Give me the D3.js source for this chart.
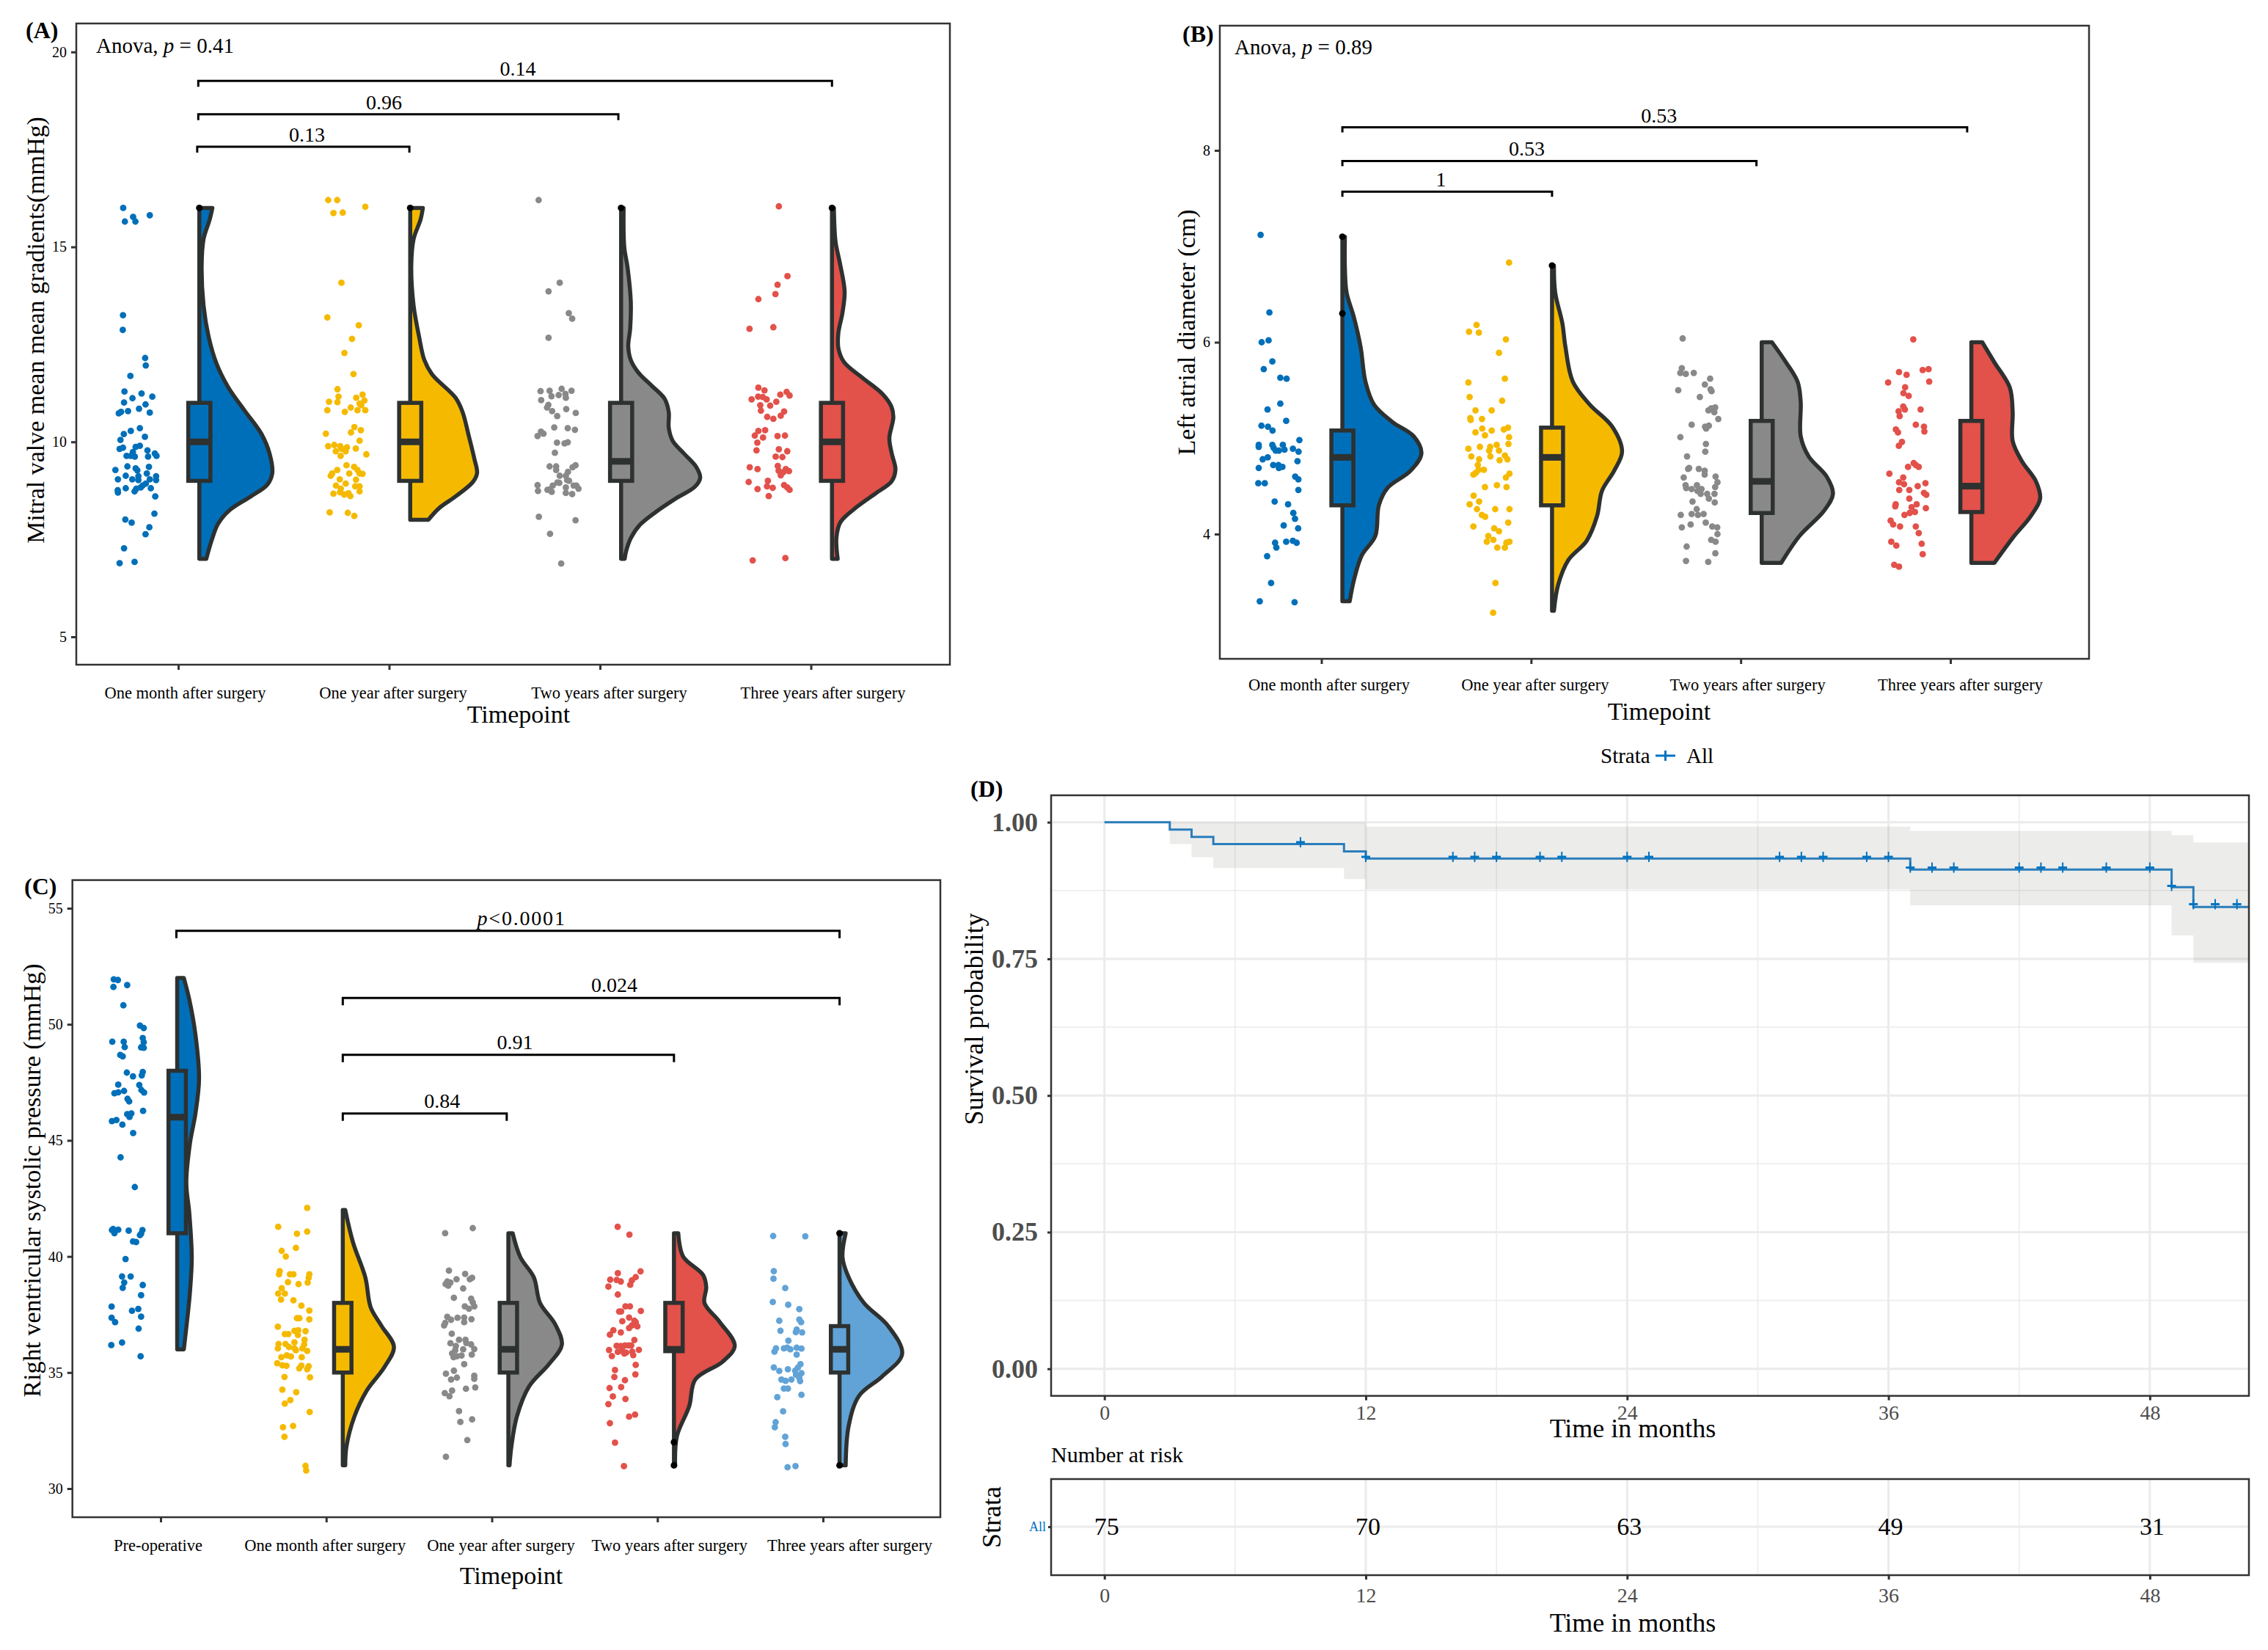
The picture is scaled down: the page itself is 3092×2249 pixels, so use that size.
<!DOCTYPE html>
<html>
<head>
<meta charset="utf-8">
<script src="https://d3js.org/d3.v7.min.js"></script>
<style>
body { margin: 0; background: #fff; }
text { font-family: "Liberation Serif", serif; }
</style>
</head>
<body>
<div id="chart"></div>
<script>
// colours shared by the raincloud groups
var groupColors = ["#006fb9", "#f5ba00", "#8a8989", "#e2514a", "#61a3d7"];
var darkLine = "#2d3130";

// ---- panel A: mitral valve gradient
var aLabels = ["One month after surgery", "One year after surgery", "Two years after surgery", "Three years after surgery"];
var aTicks = [5, 10, 15, 20];
var aBoxes = [[9, 10, 11], [9, 10, 11], [9, 9.5, 11], [9, 10, 11]];
var aOutliers = [[16], [16], [16], [16]];
var aBracketFrom = [0.09, 0.095, 0.095];
var aBracketTo = [1.096, 2.087, 3.1];
var aBracketY = [17.57, 18.4, 19.26];
var aBracketText = ["0.13", "0.96", "0.14"];
var aBracketTextX = [0.61, 0.976, 1.61];
var aViolinValues = [
  [16, 15.7, 15.2, 14.5, 13.5, 12.7, 12, 11.4, 10.8, 10.2, 9.7, 9.2, 8.9, 8.6, 8.25, 7.9, 7.5, 7],
  [16, 15.7, 15.2, 14.5, 13.5, 12.7, 12.1, 11.73, 11.13, 10.77, 10.17, 9.57, 9.2, 8.97, 8.6, 8.3, 8],
  [16, 15, 14.46, 13.6, 12.9, 12.45, 12.1, 11.77, 11.44, 11.1, 10.76, 10.36, 10.02, 9.69, 9.35, 9.08, 8.85, 8.54, 8.2, 7.87, 7.53, 7.2, 7],
  [16, 15.13, 14.6, 13.86, 13.32, 12.78, 12.38, 12.04, 11.64, 11.23, 10.9, 10.63, 10.09, 9.69, 9.29, 8.98, 8.68, 8.34, 7.94, 7.54, 7]
];
var aViolinDensity = [
  [.062, .049, .02, .011, .02, .044, .082, .137, .215, .295, .333, .346, .322, .244, .144, .089, .06, .033],
  [.06, .049, .016, .005, .016, .042, .067, .104, .215, .248, .277, .304, .317, .297, .215, .137, .086],
  [.012, .015, .031, .046, .043, .034, .046, .083, .145, .207, .226, .226, .245, .3, .357, .375, .35, .257, .164, .089, .046, .024, .017],
  [.009, .017, .037, .06, .05, .03, .031, .058, .145, .239, .282, .291, .272, .284, .301, .282, .207, .12, .04, .021, .027]
];
// dots are [jitter in category units, value]
var aDots1 = [[-.261,16],[-.214,15.77],[-.135,15.81],[-.253,15.65],[-.203,15.65],[-.262,13.25],[-.263,12.87],[-.157,12.15],[-.154,11.96],[-.227,11.69],[-.255,11.29],[-.174,11.24],[-.217,11.12],[-.123,11.16],[-.257,11.01],[-.155,10.96],[-.186,10.85],[-.135,10.75],[-.238,10.79],[-.271,10.77],[-.282,10.73],[-.182,10.35],[-.225,10.28],[-.258,10.2],[-.158,10.13],[-.274,10.05],[-.182,9.9],[-.202,9.87],[-.262,9.85],[-.278,9.82],[-.146,9.78],[-.111,9.7],[-.103,9.64],[-.245,9.64],[-.225,9.64],[-.206,9.62],[-.143,9.62],[-.215,9.74],[-.241,9.37],[-.139,9.36],[-.298,9.28],[-.202,9.32],[-.194,9.27],[-.149,9.19],[-.249,9.13],[-.189,9.12],[-.105,9.12],[-.286,9.04],[-.218,9.04],[-.189,9.02],[-.135,9.04],[-.105,9.02],[-.154,8.93],[-.169,8.88],[-.178,8.83],[-.199,8.8],[-.249,8.81],[-.13,8.81],[-.287,8.76],[-.207,8.73],[-.286,8.7],[-.109,8.6],[-.113,8.16],[-.251,8.01],[-.221,7.93],[-.137,7.81],[-.155,7.63],[-.257,7.27],[-.207,6.92],[-.278,6.89]];
var aDots2 = [[-.289,16.2],[-.246,16.2],[-.113,16.03],[-.264,15.87],[-.22,15.88],[-.226,14.08],[-.293,13.19],[-.144,12.99],[-.176,12.64],[-.212,12.28],[-.169,11.74],[-.245,11.35],[-.24,11.16],[-.126,11.21],[-.156,11.13],[-.117,11.06],[-.285,11.03],[-.245,11.02],[-.14,10.98],[-.132,10.94],[-.182,10.88],[-.293,10.81],[-.21,10.77],[-.113,10.81],[-.15,10.81],[-.165,10.38],[-.134,10.3],[-.181,10.24],[-.3,10.21],[-.14,10.03],[-.26,9.92],[-.289,9.89],[-.232,9.89],[-.2,9.86],[-.158,9.83],[-.226,9.82],[-.206,9.76],[-.253,9.76],[-.23,9.64],[-.108,9.68],[-.202,9.4],[-.166,9.36],[-.246,9.28],[-.15,9.28],[-.14,9.19],[-.126,9.18],[-.189,9.19],[-.27,9.19],[-.277,9.13],[-.234,9.04],[-.157,9.03],[-.206,8.93],[-.252,8.88],[-.161,8.86],[-.14,8.86],[-.229,8.8],[-.14,8.73],[-.233,8.71],[-.193,8.68],[-.213,8.65],[-.184,8.61],[-.264,8.67],[-.282,8.19],[-.196,8.18],[-.165,8.1]];
var aDots3 = [[-.291,16.2],[-.191,14.08],[-.244,13.86],[-.148,13.3],[-.132,13.16],[-.244,12.67],[-.282,11.3],[-.239,11.31],[-.182,11.36],[-.135,11.31],[-.164,11.23],[-.196,11.2],[-.23,11.17],[-.162,11.13],[-.279,11.07],[-.245,10.95],[-.251,10.88],[-.16,10.84],[-.227,10.79],[-.115,10.74],[-.203,10.66],[-.217,10.37],[-.153,10.35],[-.119,10.31],[-.28,10.26],[-.268,10.21],[-.296,10.15],[-.204,9.98],[-.168,9.96],[-.153,9.99],[-.214,9.72],[-.239,9.37],[-.208,9.37],[-.208,9.28],[-.116,9.4],[-.13,9.35],[-.152,9.23],[-.191,9.13],[-.162,9.13],[-.156,9.02],[-.202,8.96],[-.193,8.95],[-.147,9],[-.296,8.89],[-.224,8.88],[-.125,8.88],[-.112,8.88],[-.102,8.8],[-.162,8.83],[-.237,8.78],[-.249,8.77],[-.294,8.74],[-.229,8.72],[-.162,8.69],[-.132,8.66],[-.29,8.08],[-.116,7.99],[-.237,7.64],[-.184,6.88]];
var aDots4 = [[-.152,16.04],[-.111,14.25],[-.158,14.03],[-.168,13.79],[-.249,13.66],[-.291,12.9],[-.178,12.94],[-.249,11.39],[-.22,11.32],[-.115,11.28],[-.145,11.21],[-.101,11.19],[-.25,11.16],[-.228,11.15],[-.21,11.09],[-.281,11.09],[-.164,11.03],[-.24,10.94],[-.193,10.93],[-.237,10.8],[-.127,10.78],[-.143,10.67],[-.207,10.64],[-.178,10.59],[-.217,10.3],[-.249,10.28],[-.266,10.16],[-.227,10.11],[-.158,10.15],[-.123,10.16],[-.254,9.98],[-.258,9.78],[-.152,9.81],[-.112,9.76],[-.167,9.62],[-.135,9.61],[-.29,9.35],[-.253,9.3],[-.157,9.38],[-.153,9.26],[-.119,9.3],[-.104,9.25],[-.131,9.22],[-.143,9.14],[-.295,8.97],[-.204,9],[-.208,8.86],[-.181,8.82],[-.127,8.89],[-.112,8.83],[-.101,8.77],[-.253,8.79],[-.2,8.61],[-.276,6.96],[-.121,7.02]];

// ---- panel B: left atrial diameter
var bLabels = aLabels;
var bTicks = [4, 6, 8];
var bBoxes = [[4.3, 4.8, 5.08], [4.3, 4.8, 5.11], [4.22, 4.55, 5.18], [4.23, 4.5, 5.18]];
var bOutliers = [[7.1, 6.3], [6.8], [], []];
var bBracketFrom = [0.1, 0.1, 0.1];
var bBracketTo = [1.1, 2.075, 3.08];
var bBracketY = [7.57, 7.89, 8.24];
var bBracketText = ["1", "0.53", "0.53"];
var bBracketTextX = [0.57, 0.98, 1.61];
var bViolinValues = [
  [7.1, 6.78, 6.52, 6.26, 5.95, 5.59, 5.35, 5.17, 5.02, 4.84, 4.66, 4.48, 4.3, 3.98, 3.78, 3.52, 3.3],
  [6.8, 6.52, 6.2, 5.95, 5.59, 5.35, 5.12, 4.86, 4.66, 4.45, 4.19, 3.93, 3.73, 3.47, 3.2],
  [6, 5.79, 5.59, 5.38, 5.02, 4.81, 4.6, 4.42, 4.24, 3.98, 3.7],
  [6, 5.79, 5.53, 5.28, 4.97, 4.76, 4.55, 4.37, 4.19, 3.96, 3.7]
];
var bViolinDensity = [
  [.012, .012, .02, .055, .087, .11, .151, .238, .34, .377, .325, .215, .174, .157, .093, .055, .035],
  [.009, .015, .049, .064, .099, .18, .287, .334, .296, .238, .215, .165, .078, .029, .009],
  [.049, .116, .171, .186, .186, .224, .31, .34, .296, .18, .093],
  [.052, .11, .183, .197, .197, .241, .308, .328, .284, .197, .11]
];
var bDots1 = [[-.29,7.12],[-.248,6.31],[-.252,6.02],[-.285,6],[-.234,5.8],[-.275,5.72],[-.196,5.63],[-.166,5.62],[-.196,5.36],[-.257,5.3],[-.168,5.18],[-.286,5.13],[-.255,5.12],[-.233,5.08],[-.105,4.98],[-.299,4.93],[-.299,4.91],[-.234,4.93],[-.228,4.9],[-.184,4.93],[-.218,4.87],[-.203,4.87],[-.176,4.88],[-.136,4.89],[-.109,4.86],[-.256,4.8],[-.28,4.78],[-.114,4.76],[-.23,4.72],[-.205,4.72],[-.186,4.7],[-.203,4.69],[-.299,4.69],[-.125,4.6],[-.11,4.57],[-.301,4.53],[-.27,4.53],[-.11,4.46],[-.223,4.34],[-.159,4.31],[-.134,4.22],[-.126,4.16],[-.18,4.09],[-.111,4.06],[-.221,3.91],[-.168,3.92],[-.136,3.93],[-.118,3.91],[-.215,3.86],[-.259,3.77],[-.24,3.49],[-.294,3.3],[-.128,3.29]];
var bDots2 = [[-.105,6.83],[-.26,6.18],[-.296,6.11],[-.249,6.1],[-.12,6.03],[-.153,5.89],[-.299,5.58],[-.125,5.62],[-.293,5.43],[-.138,5.39],[-.265,5.29],[-.188,5.29],[-.29,5.21],[-.288,5.19],[-.234,5.2],[-.233,5.1],[-.11,5.11],[-.13,5.09],[-.188,5.08],[-.265,5.06],[-.22,5.03],[-.105,5.01],[-.108,4.94],[-.164,4.93],[-.244,4.91],[-.195,4.91],[-.299,4.89],[-.2,4.87],[-.153,4.87],[-.194,4.81],[-.285,4.81],[-.125,4.82],[-.113,4.78],[-.15,4.77],[-.248,4.78],[-.254,4.72],[-.225,4.67],[-.25,4.67],[-.103,4.63],[-.263,4.64],[-.275,4.62],[-.12,4.59],[-.163,4.51],[-.22,4.49],[-.117,4.49],[-.274,4.4],[-.248,4.34],[-.293,4.31],[-.258,4.26],[-.171,4.26],[-.103,4.26],[-.235,4.2],[-.219,4.18],[-.109,4.12],[-.275,4.08],[-.176,4.06],[-.153,4.03],[-.204,3.98],[-.103,3.92],[-.118,3.91],[-.18,3.94],[-.211,3.92],[-.161,3.86],[-.125,3.86],[-.17,3.49],[-.181,3.18]];
var bDots3 = [[-.277,6.04],[-.281,5.73],[-.288,5.68],[-.262,5.67],[-.224,5.68],[-.146,5.62],[-.171,5.56],[-.144,5.51],[-.139,5.49],[-.298,5.5],[-.195,5.43],[-.141,5.31],[-.122,5.32],[-.154,5.29],[-.126,5.27],[-.107,5.2],[-.234,5.14],[-.152,5.13],[-.17,5.12],[-.165,5.1],[-.288,5.01],[-.166,4.94],[-.169,4.86],[-.256,4.81],[-.246,4.69],[-.251,4.68],[-.2,4.68],[-.172,4.66],[-.172,4.62],[-.12,4.6],[-.272,4.59],[-.111,4.54],[-.263,4.51],[-.209,4.51],[-.122,4.49],[-.26,4.48],[-.234,4.47],[-.187,4.47],[-.206,4.45],[-.191,4.42],[-.16,4.42],[-.125,4.42],[-.152,4.37],[-.23,4.34],[-.124,4.33],[-.21,4.26],[-.234,4.21],[-.177,4.21],[-.204,4.2],[-.286,4.2],[-.167,4.12],[-.239,4.1],[-.281,4.07],[-.136,4.08],[-.112,4.07],[-.111,4],[-.141,3.94],[-.12,3.92],[-.258,3.87],[-.121,3.8],[-.261,3.72],[-.155,3.71]];
var bDots4 = [[-.177,6.03],[-.245,5.69],[-.209,5.66],[-.132,5.71],[-.104,5.72],[-.297,5.58],[-.101,5.59],[-.216,5.53],[-.224,5.47],[-.199,5.44],[-.225,5.33],[-.217,5.3],[-.142,5.3],[-.247,5.28],[-.242,5.23],[-.165,5.14],[-.126,5.12],[-.124,5.07],[-.26,5.09],[-.25,5.06],[-.231,4.96],[-.246,4.92],[-.175,4.74],[-.165,4.72],[-.151,4.7],[-.202,4.7],[-.291,4.63],[-.225,4.59],[-.245,4.54],[-.119,4.53],[-.221,4.52],[-.156,4.5],[-.244,4.46],[-.196,4.46],[-.126,4.43],[-.115,4.41],[-.196,4.37],[-.261,4.31],[-.263,4.29],[-.161,4.31],[-.185,4.28],[-.117,4.27],[-.219,4.2],[-.194,4.22],[-.169,4.23],[-.285,4.14],[-.273,4.1],[-.24,4.08],[-.165,4.08],[-.151,4.01],[-.282,3.92],[-.258,3.88],[-.137,3.9],[-.132,3.79],[-.268,3.68],[-.245,3.66]];

// ---- panel C: right ventricular systolic pressure
var cLabels = ["Pre-operative"].concat(aLabels);
var cTicks = [30, 35, 40, 45, 50, 55];
var cBoxes = [[41, 46, 48], [35, 36, 38], [35, 36, 38], [35.92, 36, 38], [35, 36, 37]];
var cOutliers = [[], [], [], [32, 31], [41, 31]];
var cBracketFrom = [1.1, 1.1, 1.1, 0.095];
var cBracketTo = [2.09, 3.1, 4.1, 4.1];
var cBracketY = [46.16, 48.69, 51.14, 54.03];
var cBracketText = ["0.84", "0.91", "0.024", "p<0.0001"];
var cBracketTextX = [1.70, 2.14, 2.74, 2.18];
var cViolinValues = [
  [52, 51.07, 49.57, 47.65, 46.15, 44.87, 43.16, 41.88, 39.96, 38.46, 37.18, 36],
  [42, 40.6, 39.1, 37.8, 37, 36.1, 35.25, 34.2, 33.1, 31.8, 31],
  [41, 39.96, 39.1, 38, 37.07, 36.2, 35.37, 34.4, 33.1, 31.8, 31],
  [41, 40, 39.2, 38.67, 38, 37.18, 36.15, 35.47, 34.7, 33.55, 32.26, 31],
  [41, 39.96, 39.1, 38, 37, 35.8, 34.83, 34, 32.7, 31]
];
var cViolinDensity = [
  [.04, .073, .11, .132, .11, .077, .055, .073, .088, .077, .059, .04],
  [.015, .062, .136, .169, .235, .309, .253, .143, .07, .022, .015],
  [.026, .073, .154, .191, .283, .323, .246, .125, .051, .018, .007],
  [.026, .055, .176, .195, .184, .276, .367, .294, .129, .092, .018, .007],
  [.037, .018, .055, .147, .294, .378, .257, .118, .055, .037]
];
var cDots1 = [[-.283,51.94],[-.258,51.91],[-.202,51.69],[-.285,51.61],[-.225,50.82],[-.125,49.95],[-.102,49.84],[-.108,49.41],[-.292,49.25],[-.223,49.25],[-.102,49.23],[-.217,49.02],[-.118,49.01],[-.102,48.99],[-.244,48.68],[-.229,48.62],[-.204,47.92],[-.108,47.95],[-.167,47.76],[-.114,47.8],[-.256,47.4],[-.129,47.39],[-.221,47.13],[-.256,47.07],[-.279,47.03],[-.116,47.17],[-.1,47.06],[-.2,46.79],[-.19,46.68],[-.106,46.27],[-.202,46.13],[-.177,46.16],[-.188,46.01],[-.267,45.88],[-.294,45.83],[-.231,45.68],[-.166,45.32],[-.242,44.27],[-.156,42.99],[-.287,41.18],[-.256,41.15],[-.193,41.11],[-.11,41.14],[-.118,40.98],[-.279,41],[-.294,41.14],[-.125,40.92],[-.167,40.65],[-.148,40.62],[-.212,39.89],[-.233,39.14],[-.181,39.14],[-.22,38.88],[-.108,38.77],[-.229,38.65],[-.118,38.33],[-.296,37.84],[-.135,37.74],[-.173,37.66],[-.118,37.41],[-.296,37.36],[-.275,37.17],[-.133,36.89],[-.233,36.29],[-.298,36.18],[-.121,35.7]];
var cDots2 = [[-.115,42.09],[-.29,41.28],[-.115,41.07],[-.177,40.98],[-.183,40.37],[-.269,40.24],[-.244,40],[-.281,39.37],[-.285,39.23],[-.219,39.23],[-.198,39.23],[-.102,39.23],[-.106,39.08],[-.231,38.89],[-.112,38.88],[-.167,38.81],[-.269,38.63],[-.29,38.4],[-.25,38.4],[-.273,38.14],[-.198,38.11],[-.15,37.88],[-.102,37.67],[-.177,37.34],[-.162,37.34],[-.102,37.29],[-.292,36.97],[-.192,36.8],[-.169,36.82],[-.125,36.78],[-.25,36.66],[-.229,36.66],[-.171,36.62],[-.131,36.41],[-.288,36.23],[-.246,36.23],[-.192,36.3],[-.133,36.21],[-.292,36.04],[-.225,36.1],[-.192,36.04],[-.144,36.04],[-.115,35.93],[-.183,35.96],[-.271,35.66],[-.238,35.74],[-.213,35.69],[-.148,35.66],[-.296,35.4],[-.265,35.31],[-.24,35.29],[-.15,35.3],[-.163,35.18],[-.106,35.27],[-.115,35.14],[-.252,34.81],[-.098,34.79],[-.265,34.26],[-.181,34.15],[-.217,33.81],[-.25,33.66],[-.1,33.3],[-.261,32.64],[-.2,32.7],[-.252,32.23],[-.125,30.98],[-.121,30.78]];
var cDots3 = [[-.282,41],[-.115,41.22],[-.259,39.39],[-.161,39.25],[-.119,39.08],[-.133,39.02],[-.213,39.02],[-.269,38.92],[-.25,38.88],[-.279,38.81],[-.263,38.74],[-.173,38.62],[-.229,38.22],[-.125,38.18],[-.115,38.02],[-.163,37.85],[-.106,37.85],[-.138,37.75],[-.269,37.4],[-.207,37.36],[-.246,37.27],[-.167,37.37],[-.123,37.3],[-.167,37.17],[-.281,37.14],[-.288,37.03],[-.242,36.67],[-.198,36.41],[-.159,36.41],[-.25,36.26],[-.125,36.21],[-.217,36.14],[-.154,36.27],[-.106,36.01],[-.221,35.96],[-.173,36],[-.24,35.82],[-.121,35.77],[-.211,35.7],[-.183,35.73],[-.231,35.66],[-.167,35.36],[-.277,34.95],[-.229,35.08],[-.211,34.78],[-.246,34.7],[-.106,34.86],[-.106,34.73],[-.156,34.3],[-.1,34.36],[-.24,34.22],[-.284,34.11],[-.256,33.98],[-.198,33.34],[-.119,32.98],[-.19,32.87],[-.148,32.09],[-.277,31.37]];
var cDots4 = [[-.24,41.28],[-.169,40.94],[-.102,39.36],[-.239,39.28],[-.131,39.11],[-.285,39],[-.246,38.99],[-.221,38.92],[-.154,38.97],[-.164,38.78],[-.296,38.7],[-.239,38.36],[-.193,37.85],[-.166,37.85],[-.1,37.65],[-.231,37.63],[-.219,37.63],[-.171,37.37],[-.212,37.21],[-.139,37.23],[-.131,37.17],[-.154,37.03],[-.121,36.99],[-.171,36.92],[-.266,36.82],[-.287,36.63],[-.221,36.73],[-.139,36.4],[-.246,36.15],[-.221,36.14],[-.196,36.17],[-.173,36.17],[-.158,36.17],[-.292,35.97],[-.239,35.89],[-.212,35.93],[-.189,35.86],[-.2,35.82],[-.152,35.9],[-.112,35.98],[-.146,35.75],[-.275,35.71],[-.131,35.33],[-.256,35.11],[-.26,34.81],[-.133,34.92],[-.196,34.67],[-.289,34.33],[-.219,34.37],[-.269,33.97],[-.193,33.86],[-.296,33.64],[-.135,33.19],[-.171,33.1],[-.287,32.82],[-.256,31.98],[-.202,30.97]];
var cDots5 = [[-.301,40.88],[-.107,40.87],[-.297,39.37],[-.299,39.04],[-.228,38.64],[-.303,38.04],[-.21,37.92],[-.143,37.73],[-.264,37.23],[-.143,37.28],[-.132,37.17],[-.257,36.8],[-.159,36.85],[-.126,36.73],[-.164,36.74],[-.209,36.37],[-.284,36.04],[-.236,36.04],[-.216,36.07],[-.197,36],[-.159,36.07],[-.13,36.03],[-.293,35.9],[-.159,35.77],[-.136,35.36],[-.151,35.22],[-.297,35.22],[-.264,35.07],[-.212,35.14],[-.168,35.08],[-.13,34.97],[-.163,34.9],[-.143,34.77],[-.251,34.7],[-.226,34.64],[-.191,34.7],[-.138,34.63],[-.236,34.31],[-.212,34.31],[-.13,34.04],[-.276,33.94],[-.241,33.33],[-.286,32.86],[-.291,32.64],[-.228,32.23],[-.226,31.92],[-.166,30.97],[-.214,30.92]];

// ---- panel D: survival curve
var kmTimes = [0, 3, 4, 5, 11, 12, 37, 49, 50, 52.54];
var kmSurv = [1, .9866, .973, .96, .9465, .9335, .9134, .881, .845, .845];
var kmUpper = [1, 1, 1, 1, 1, .992, .984, .976, .963, .963];
var kmLower = [1, .96, .936, .916, .896, .877, .848, .793, .743, .743];
var censorTimes = [9, 12, 16, 17, 18, 20, 21, 24, 25, 31, 32, 33, 35, 36, 37, 38, 39, 42, 43, 44, 46, 48, 49, 50, 51, 52];
var censorSurv = [.9634, .9366, .9366, .9366, .9366, .9366, .9366, .9366, .9366, .9366, .9366, .9366, .9366, .9366, .917, .917, .917, .917, .917, .917, .917, .917, .8835, .85, .85, .85];
var kmTicks = [0, 12, 24, 36, 48];
var kmMinorTicks = [6, 18, 30, 42];
var survTicks = [0, .25, .5, .75, 1];
var survMinorTicks = [.125, .375, .625, .875];
var riskCounts = [75, 70, 63, 49, 31];

var svg = d3.select("#chart").append("svg")
    .attr("width", 3092)
    .attr("height", 2249);

function addText(x, y, str, size, anchor) {
  return svg.append("text")
      .attr("x", x)
      .attr("y", y)
      .attr("font-size", size)
      .attr("text-anchor", anchor || "middle")
      .text(str);
}

function addVerticalText(x, y, str, size) {
  return svg.append("text")
      .attr("transform", "translate(" + x + "," + y + ") rotate(-90)")
      .attr("font-size", size)
      .attr("text-anchor", "middle")
      .text(str);
}

// text like "p<0.0001" gets an italic p
function addPText(x, y, before, rest, size, anchor) {
  var t = addText(x, y, before, size, anchor);
  t.append("tspan").attr("font-style", "italic").text("p");
  t.append("tspan").text(rest);
  return t;
}

function drawRain(p) {
  var x = d3.scaleLinear().domain(p.xDomain).range(p.xRange);
  var y = d3.scaleLinear().domain(p.yDomain).range(p.yRange);

  svg.append("rect")
      .attr("x", p.left).attr("y", p.top)
      .attr("width", p.right - p.left).attr("height", p.bottom - p.top)
      .attr("fill", "none").attr("stroke", "#333").attr("stroke-width", 2.5);

  var xAxis = svg.append("g")
      .attr("transform", "translate(0," + p.bottom + ")")
      .call(d3.axisBottom(x).tickValues(d3.range(p.labels.length)).tickSize(7)
        .tickFormat(function (d) { return p.labels[d]; }));
  xAxis.select(".domain").remove();
  xAxis.selectAll("line").attr("stroke", "#333").attr("stroke-width", 3);
  xAxis.selectAll("text")
      .attr("font-family", "Liberation Serif").attr("font-size", 22.5).attr("fill", "#000")
      .attr("y", p.labelDrop).attr("dy", 0)
      .attr("x", function (d) { return p.labelShift[d]; });

  var yAxis = svg.append("g")
      .attr("transform", "translate(" + p.left + ",0)")
      .call(d3.axisLeft(y).tickValues(p.ticks).tickSize(7).tickPadding(6).tickFormat(d3.format("d")));
  yAxis.select(".domain").remove();
  yAxis.selectAll("line").attr("stroke", "#333").attr("stroke-width", 3);
  yAxis.selectAll("text")
      .attr("font-family", "Liberation Serif").attr("font-size", 20).attr("fill", "#000");

  var base = 0.1, boxWidth = 0.105;
  var g = svg.append("g");

  p.dots.forEach(function (dots, i) {
    g.append("g").selectAll("circle")
        .data(dots)
        .enter()
        .append("circle")
        .attr("cx", function (d) { return x(i + d[0]); })
        .attr("cy", function (d) { return y(d[1]); })
        .attr("r", 4.4)
        .attr("fill", groupColors[i]);

    var area = d3.area()
        .curve(d3.curveCatmullRom.alpha(0.5))
        .y(function (d) { return y(d); })
        .x0(x(i + base))
        .x1(function (d, j) { return x(i + base + p.density[i][j]); });

    g.append("path")
        .datum(p.values[i])
        .attr("d", area)
        .attr("fill", groupColors[i])
        .attr("stroke", darkLine)
        .attr("stroke-width", 5.5)
        .attr("stroke-linejoin", "round");

    var b = p.boxes[i];
    g.append("rect")
        .attr("x", x(i + base - boxWidth / 2))
        .attr("width", x(i + base + boxWidth / 2) - x(i + base - boxWidth / 2))
        .attr("y", y(b[2]))
        .attr("height", y(b[0]) - y(b[2]))
        .attr("fill", groupColors[i])
        .attr("stroke", darkLine)
        .attr("stroke-width", 5.5);
    g.append("line")
        .attr("x1", x(i + base - boxWidth / 2))
        .attr("x2", x(i + base + boxWidth / 2))
        .attr("y1", y(b[1]))
        .attr("y2", y(b[1]))
        .attr("stroke", darkLine)
        .attr("stroke-width", 9);

    g.append("g").selectAll("circle")
        .data(p.outliers[i])
        .enter()
        .append("circle")
        .attr("cx", x(i + base))
        .attr("cy", function (d) { return y(d); })
        .attr("r", 4.5)
        .attr("fill", "#000");
  });

  // significance brackets
  p.bracketText.forEach(function (label, i) {
    var yb = y(p.bracketY[i]);
    svg.append("path")
        .attr("d", "M" + x(p.bracketFrom[i]) + "," + (yb + p.bracketTick) +
                   "V" + yb + "H" + x(p.bracketTo[i]) + "V" + (yb + p.bracketTick))
        .attr("fill", "none")
        .attr("stroke", "#000")
        .attr("stroke-width", 3);
    if (label.charAt(0) == "p") {
      addPText(x(p.bracketTextX[i]), yb - p.bracketGap, "", label.slice(1), 28)
          .style("letter-spacing", "1.8px");
    } else {
      addText(x(p.bracketTextX[i]), yb - p.bracketGap, label, 28);
    }
  });
}

drawRain({
  left: 104, right: 1295, top: 32, bottom: 906,
  xDomain: [0, 3], xRange: [243, 1105.5],
  yDomain: [5, 20], yRange: [868, 70.8],
  labels: aLabels, labelShift: [9, 5, 12, 16], labelDrop: 46,
  ticks: aTicks, boxes: aBoxes, outliers: aOutliers,
  values: aViolinValues, density: aViolinDensity,
  dots: [aDots1, aDots2, aDots3, aDots4],
  bracketFrom: aBracketFrom, bracketTo: aBracketTo, bracketY: aBracketY,
  bracketText: aBracketText, bracketTextX: aBracketTextX,
  bracketTick: 8, bracketGap: 7
});

drawRain({
  left: 1663, right: 2848, top: 35, bottom: 898,
  xDomain: [0, 3], xRange: [1801.5, 2659],
  yDomain: [4, 8], yRange: [728, 205],
  labels: bLabels, labelShift: [10, 5, 9, 13], labelDrop: 43,
  ticks: bTicks, boxes: bBoxes, outliers: bOutliers,
  values: bViolinValues, density: bViolinDensity,
  dots: [bDots1, bDots2, bDots3, bDots4],
  bracketFrom: bBracketFrom, bracketTo: bBracketTo, bracketY: bBracketY,
  bracketText: bBracketText, bracketTextX: bBracketTextX,
  bracketTick: 7, bracketGap: 7
});

drawRain({
  left: 98.7, right: 1282, top: 1199.6, bottom: 2068,
  xDomain: [0, 4], xRange: [219, 1122],
  yDomain: [30, 55], yRange: [2029, 1238],
  labels: cLabels, labelShift: [-4, -2, 12, 16, 36], labelDrop: 46,
  ticks: cTicks, boxes: cBoxes, outliers: cOutliers,
  values: cViolinValues, density: cViolinDensity,
  dots: [cDots1, cDots2, cDots3, cDots4, cDots5],
  bracketFrom: cBracketFrom, bracketTo: cBracketTo, bracketY: cBracketY,
  bracketText: cBracketText, bracketTextX: cBracketTextX,
  bracketTick: 10, bracketGap: 8
});

// axis titles and annotations of the raincloud panels
addVerticalText(60, 450, "Mitral valve mean mean gradients(mmHg)", 34);
addVerticalText(1629, 453, "Left atrial diameter (cm)", 34);
addVerticalText(55, 1609, "Right ventricular systolic pressure (mmHg)", 34);
addText(707, 985, "Timepoint", 34);
addText(2262, 981, "Timepoint", 34);
addText(697, 2159, "Timepoint", 34);
addPText(131, 71.5, "Anova, ", " = 0.41", 29, "start");
addPText(1683, 74, "Anova, ", " = 0.89", 29, "start");
addText(35, 52, "(A)", 32, "start").attr("font-weight", "bold");
addText(1612, 57, "(B)", 32, "start").attr("font-weight", "bold");
addText(33, 1219, "(C)", 32, "start").attr("font-weight", "bold");
addText(1323, 1086, "(D)", 32, "start").attr("font-weight", "bold");

// legend of panel D
addText(2182, 1040, "Strata", 29, "start");
addText(2299, 1040, "All", 29, "start");
svg.append("path")
    .attr("d", "M2257,1030H2284M2270.5,1023V1037")
    .attr("stroke", "#0073c2")
    .attr("stroke-width", 3);

// ---- survival panel
var kmLeft = 1433, kmRight = 3066;
var kmX = d3.scaleLinear().domain([0, 48]).range([1505.7, 2930.9]);
var survY = d3.scaleLinear().domain([0, 1]).range([1865.7, 1120.7]);

function drawGrid(top, bottom, hMajor, hMinor) {
  var grid = svg.append("g").attr("stroke", "#ebebeb");
  grid.selectAll("line.minorx").data(kmMinorTicks).enter().append("line")
      .attr("x1", kmX).attr("x2", kmX).attr("y1", top).attr("y2", bottom)
      .attr("stroke-width", 1.5);
  grid.selectAll("line.majorx").data(kmTicks).enter().append("line")
      .attr("x1", kmX).attr("x2", kmX).attr("y1", top).attr("y2", bottom)
      .attr("stroke-width", 3);
  grid.selectAll("line.minory").data(hMinor).enter().append("line")
      .attr("y1", survY).attr("y2", survY).attr("x1", kmLeft).attr("x2", kmRight)
      .attr("stroke-width", 1.5);
  grid.selectAll("line.majory").data(hMajor).enter().append("line")
      .attr("y1", function (d) { return d; }).attr("y2", function (d) { return d; })
      .attr("x1", kmLeft).attr("x2", kmRight)
      .attr("stroke-width", 3);
}

function drawTimeAxis(top, bottom, labelY) {
  svg.append("rect")
      .attr("x", kmLeft).attr("y", top)
      .attr("width", kmRight - kmLeft).attr("height", bottom - top)
      .attr("fill", "none").attr("stroke", "#333").attr("stroke-width", 2.5);
  var ax = svg.append("g")
      .attr("transform", "translate(0," + bottom + ")")
      .call(d3.axisBottom(kmX).tickValues(kmTicks).tickSize(6));
  ax.select(".domain").remove();
  ax.selectAll("line").attr("stroke", "#333").attr("stroke-width", 3);
  ax.selectAll("text")
      .attr("font-family", "Liberation Serif").attr("font-size", 28).attr("fill", "#4d4d4d")
      .attr("y", labelY - bottom).attr("dy", 0);
}

drawGrid(1084, 1902.6, survTicks.map(survY), survMinorTicks);

var ribbonData = kmTimes.map(function (t, i) { return { t: t, up: kmUpper[i], lo: kmLower[i], s: kmSurv[i] }; });

svg.append("path")
    .datum(ribbonData)
    .attr("d", d3.area().curve(d3.curveStepAfter)
      .x(function (d) { return kmX(d.t); })
      .y0(function (d) { return survY(d.lo); })
      .y1(function (d) { return survY(d.up); }))
    .attr("fill", "#7f7f70")
    .attr("fill-opacity", 0.15);

svg.append("path")
    .datum(ribbonData)
    .attr("d", d3.line().curve(d3.curveStepAfter)
      .x(function (d) { return kmX(d.t); })
      .y(function (d) { return survY(d.s); }))
    .attr("fill", "none")
    .attr("stroke", "#2a7dbb")
    .attr("stroke-width", 3);

var censor = svg.append("g").attr("stroke", "#0073c2").selectAll("g")
    .data(censorTimes)
    .enter()
    .append("g")
    .attr("transform", function (d, i) { return "translate(" + kmX(d) + "," + survY(censorSurv[i]) + ")"; });
censor.append("line").attr("x1", -6).attr("x2", 6).attr("stroke-width", 3);
censor.append("line").attr("y1", -7).attr("y2", 7).attr("stroke-width", 2);

drawTimeAxis(1084, 1902.6, 1935);

var survAxis = svg.append("g")
    .attr("transform", "translate(" + kmLeft + ",0)")
    .call(d3.axisLeft(survY).tickValues(survTicks).tickSize(5).tickPadding(13)
      .tickFormat(d3.format(".2f")));
survAxis.select(".domain").remove();
survAxis.selectAll("line").attr("stroke", "#333").attr("stroke-width", 3);
survAxis.selectAll("text")
    .attr("font-family", "Liberation Serif").attr("font-size", 36)
    .attr("font-weight", "bold").attr("fill", "#4d4d4d");

addVerticalText(1340, 1389, "Survival probability", 36);
addText(2226, 1959, "Time in months", 36);

// ---- number at risk table
var riskTop = 2016, riskBottom = 2147;
var riskY = d3.scalePoint().domain(["All"]).range([2081, 2081]);
drawGrid(riskTop, riskBottom, [riskY("All")], []);
drawTimeAxis(riskTop, riskBottom, 2184);

var riskAxis = svg.append("g")
    .attr("transform", "translate(" + kmLeft + ",0)")
    .call(d3.axisLeft(riskY).tickSize(4).tickPadding(3));
riskAxis.select(".domain").remove();
riskAxis.selectAll("line").attr("stroke", "#333").attr("stroke-width", 3);
riskAxis.selectAll("text")
    .attr("font-family", "Liberation Serif").attr("font-size", 18).attr("fill", "#0073c2");

svg.append("g").selectAll("text")
    .data(riskCounts)
    .enter()
    .append("text")
    .attr("x", function (d, i) { return kmX(kmTicks[i]) + 3; })
    .attr("y", riskY("All") + 11)
    .attr("font-size", 34)
    .attr("text-anchor", "middle")
    .text(function (d) { return d; });

addText(kmLeft, 1993, "Number at risk", 30, "start");
addVerticalText(1364, 2068, "Strata", 36);
addText(2226, 2224, "Time in months", 36);
</script>
</body>
</html>
